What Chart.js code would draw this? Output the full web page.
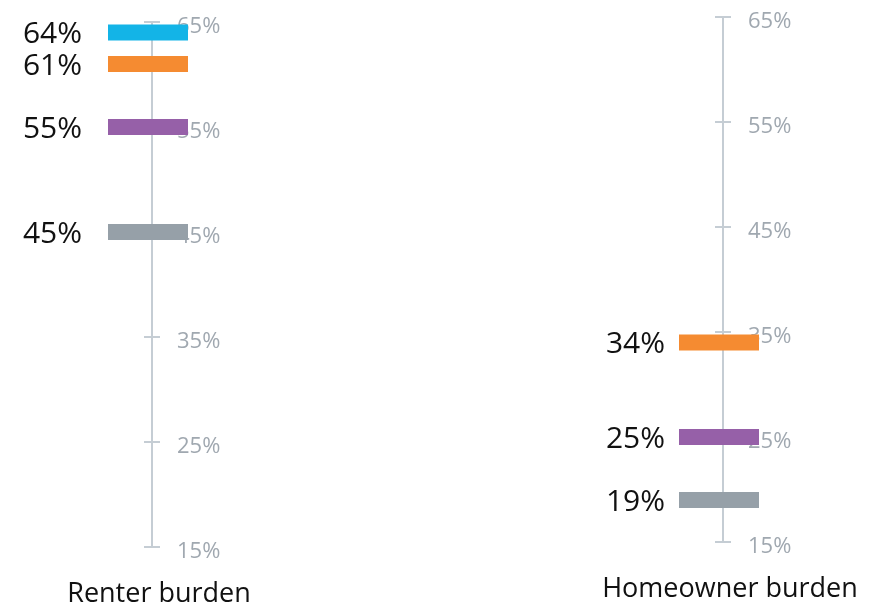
<!DOCTYPE html>
<html>
<head>
  <meta charset="UTF-8">
  <title>Housing cost burden</title>
  <script src="https://cdn.jsdelivr.net/npm/chart.js"></script>
  <style>
    html, body {
      margin: 0;
      padding: 0;
      background: #fff;
      overflow: hidden;
      width: 875px;
      height: 607px;
    }
    canvas {
      position: absolute;
    }
    #renterChart { left: 0; top: 0; }
    #ownerChart { left: 571px; top: -5px; }
  </style>
</head>
<body>
  <canvas id="renterChart" width="304" height="607"></canvas>
  <canvas id="ownerChart" width="304" height="607"></canvas>

  <script>
// categories, one chart each
const CATEGORIES = ['Renter burden', 'Homeowner burden'];

// series (top to bottom in the renter column)
const SERIES = ['Group A', 'Group B', 'Group C', 'Group D'];
const SERIES_COLORS = ['#13b4e7', '#f58b31', '#9660a8', '#96a0a8'];

// share burdened, in percent
const RENTER_VALUES = [64, 61, 55, 45];
const OWNER_VALUES = [null, 34, 25, 19];

// axis ticks
const AXIS_MIN = 15;
const AXIS_MAX = 65;
const AXIS_STEP = 10;

const AXIS_COLOR = '#c5cdd4';
const TICK_TEXT = '#a0a8b0';
const FONT = '"Open Sans", "Noto Sans", sans-serif';

// value label to the left of each bar
const valueLabels = {
  id: 'valueLabels',
  afterDatasetsDraw(chart, args, opts) {
    const ctx = chart.ctx;
    ctx.save();
    ctx.font = '30px ' + FONT;
    ctx.fillStyle = '#111';
    ctx.textAlign = 'right';
    ctx.textBaseline = 'middle';
    chart.data.datasets.forEach((ds, i) => {
      const meta = chart.getDatasetMeta(i);
      meta.data.forEach((pt, j) => {
        const v = ds.data[j];
        if (v == null) return;
        ctx.fillText(v + '%', pt.x - pt.options.radius - opts.gap, pt.y + opts.dy);
      });
    });
    ctx.restore();
  }
};

// category name under the axis
const categoryLabel = {
  id: 'categoryLabel',
  afterDraw(chart, args, opts) {
    const ctx = chart.ctx;
    const y = chart.scales.y;
    ctx.save();
    ctx.font = '27px ' + FONT;
    ctx.fillStyle = '#111';
    ctx.textAlign = 'center';
    ctx.textBaseline = 'middle';
    ctx.fillText(opts.text, y.left + 7, chart.chartArea.bottom + 47);
    ctx.restore();
  }
};

function makeChart(id, category, values, gap) {
  const datasets = SERIES.map((name, i) => ({
    label: name,
    data: [values[i]],
    showLine: false,
    clip: false,
    pointStyle: 'line',
    pointRadius: 40,
    pointBorderWidth: 16,
    pointBorderColor: SERIES_COLORS[i],
    pointBackgroundColor: SERIES_COLORS[i]
  }));

  return new Chart(document.getElementById(id), {
    type: 'line',
    data: { labels: [category], datasets },
    plugins: [valueLabels, categoryLabel],
    options: {
      responsive: false,
      animation: false,
      events: [],
      layout: {
        autoPadding: false,
        padding: { left: 144, right: 52, top: 22, bottom: 60 }
      },
      plugins: {
        legend: { display: false },
        tooltip: { enabled: false },
        valueLabels: { gap: gap, dy: 2 },
        categoryLabel: { text: category }
      },
      scales: {
        x: {
          type: 'category',
          display: false,
          offset: true
        },
        y: {
          position: 'right',
          min: AXIS_MIN,
          max: AXIS_MAX,
          afterFit(scale) {
            scale.width = 100;
            scale.paddingTop = 0;
            scale.paddingBottom = 0;
          },
          border: { display: true, color: AXIS_COLOR, width: 2 },
          grid: {
            color: AXIS_COLOR,
            lineWidth: 2,
            drawOnChartArea: true,
            drawTicks: true,
            tickLength: 8
          },
          ticks: {
            stepSize: AXIS_STEP,
            padding: 17,
            labelOffset: 5,
            color: TICK_TEXT,
            font: { family: FONT, size: 22 },
            callback: v => v + '%'
          }
        }
      }
    }
  });
}

makeChart('renterChart', CATEGORIES[0], RENTER_VALUES, 26);
makeChart('ownerChart', CATEGORIES[1], OWNER_VALUES, 14);
  </script>
</body>
</html>
